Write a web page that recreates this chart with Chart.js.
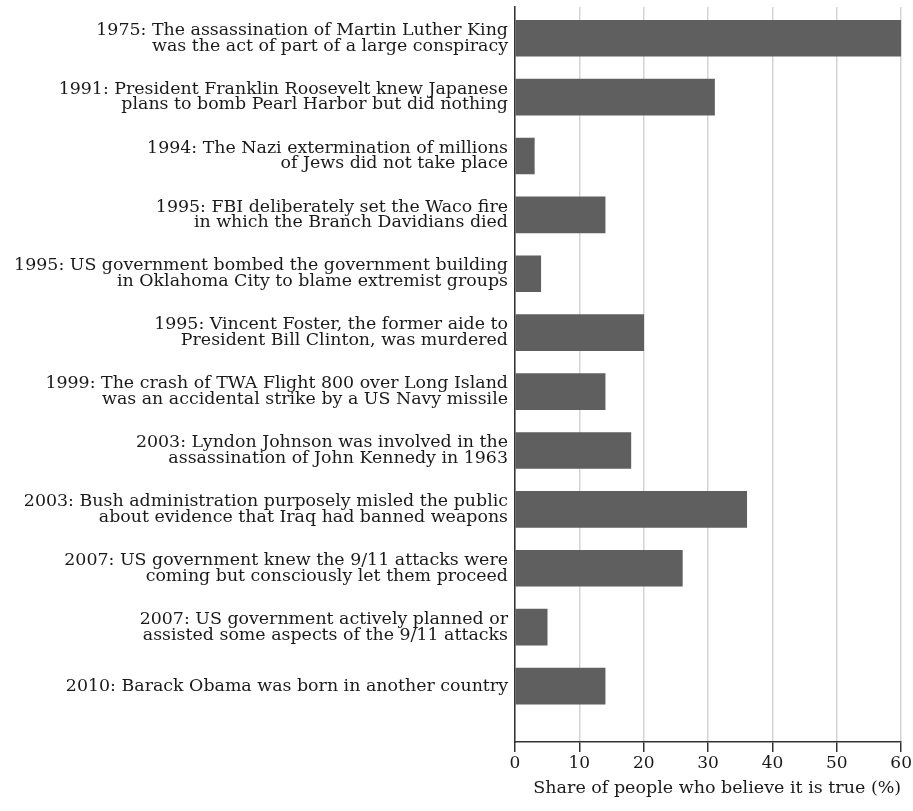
<!DOCTYPE html>
<html lang="en">
<head>
  <meta charset="UTF-8">
  <title>Conspiracy beliefs</title>
  <script src="https://cdn.jsdelivr.net/npm/chart.js"></script>
  <style>
    body { margin: 0; background: #fff; }
    #wrap { width: 913px; height: 811px; }
  </style>
</head>
<body>
  <div id="wrap"><canvas id="beliefChart"></canvas></div>

  <script>
    // survey statements, two lines each
    const firstLines = [
      '1975: The assassination of Martin Luther King',
      '1991: President Franklin Roosevelt knew Japanese',
      '1994: The Nazi extermination of millions',
      '1995: FBI deliberately set the Waco fire',
      '1995: US government bombed the government building',
      '1995: Vincent Foster, the former aide to',
      '1999: The crash of TWA Flight 800 over Long Island',
      '2003: Lyndon Johnson was involved in the',
      '2003: Bush administration purposely misled the public',
      '2007: US government knew the 9/11 attacks were',
      '2007: US government actively planned or',
      '2010: Barack Obama was born in another country'
    ];
    const secondLines = [
      'was the act of part of a large conspiracy',
      'plans to bomb Pearl Harbor but did nothing',
      'of Jews did not take place',
      'in which the Branch Davidians died',
      'in Oklahoma City to blame extremist groups',
      'President Bill Clinton, was murdered',
      'was an accidental strike by a US Navy missile',
      'assassination of John Kennedy in 1963',
      'about evidence that Iraq had banned weapons',
      'coming but consciously let them proceed',
      'assisted some aspects of the 9/11 attacks',
      ''
    ];
    // share of people who believe it is true (%)
    const shares = [60, 31, 3, 14, 4, 20, 14, 18, 36, 26, 5, 14];
    const xTicks = [0, 10, 20, 30, 40, 50, 60];

    const serif = 'DejaVu Serif';
    const ink = '#1a1a1a';

    new Chart(document.getElementById('beliefChart'), {
      type: 'bar',
      data: {
        datasets: [{
          data: shares.map((v, i) => ({ x: v, y: i })),
          backgroundColor: '#5f5f5f',
          borderWidth: 0,
          barThickness: 36
        }]
      },
      options: {
        indexAxis: 'y',
        responsive: true,
        maintainAspectRatio: false,
        animation: false,
        layout: { padding: { top: 7, right: 11, left: 0, bottom: 0 } },
        plugins: { legend: { display: false }, tooltip: { enabled: false } },
        scales: {
          y: {
            type: 'linear',
            reverse: true,
            offset: false,
            min: -0.53,
            max: 11.95,
            afterBuildTicks: (scale) => {
              scale.ticks = firstLines.map((_, i) => ({ value: i }));
            },
            afterFit: (scale) => {
              scale.width = 515;
              scale.paddingTop = 0;
              scale.paddingBottom = 0;
            },
            grid: { display: false, drawTicks: false },
            border: { display: true, color: '#333', width: 1.5 },
            ticks: {
              padding: 7,
              color: ink,
              font: { family: serif, size: 17.4, lineHeight: 0.9 },
              callback: (v) => secondLines[v] ? [firstLines[v], secondLines[v]] : firstLines[v]
            }
          },
          x: {
            type: 'linear',
            min: 0,
            max: 60,
            afterBuildTicks: (scale) => {
              scale.ticks = xTicks.map(v => ({ value: v }));
            },
            afterFit: (scale) => { scale.height = 69; },
            grid: {
              color: '#d4d4d4',
              lineWidth: 1.5,
              tickColor: '#333',
              tickLength: 10
            },
            border: { display: true, color: '#333', width: 1.5 },
            ticks: {
              padding: 1,
              color: ink,
              maxRotation: 0,
              font: { family: serif, size: 17 }
            },
            title: {
              display: true,
              align: 'end',
              text: 'Share of people who believe it is true (%)',
              color: ink,
              font: { family: serif, size: 17.5 },
              padding: { top: 0, bottom: 12 }
            }
          }
        }
      }
    });
  </script>
</body>
</html>
